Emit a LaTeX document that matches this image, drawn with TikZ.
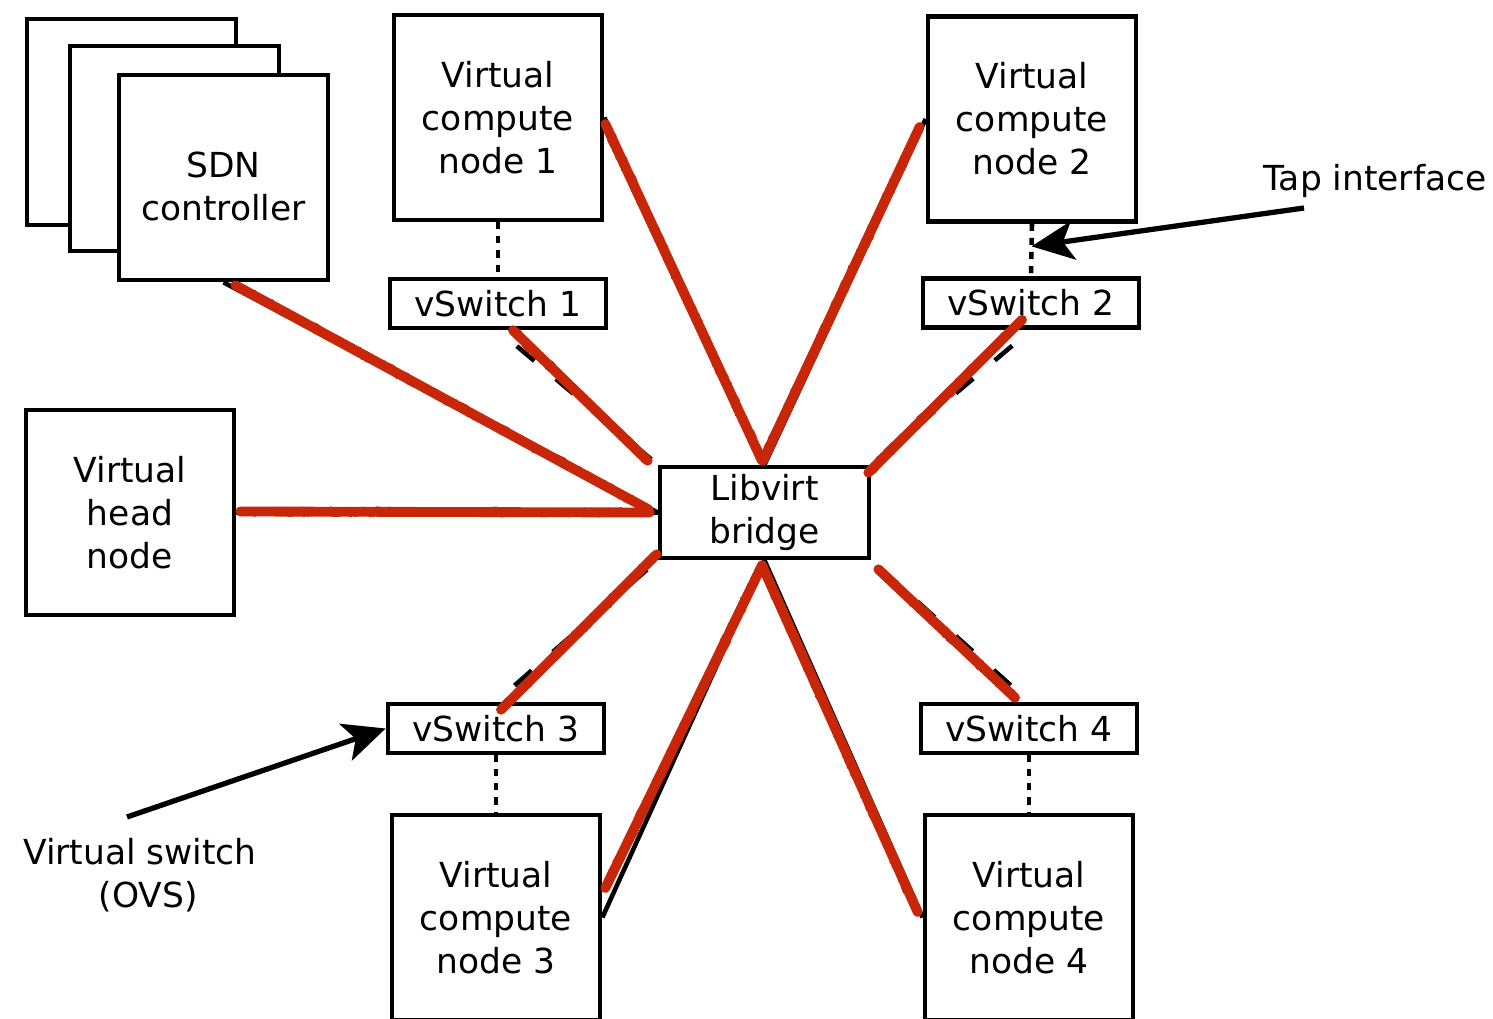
\documentclass[tikz,border=0pt]{standalone}
\usepackage{fontspec}
\setmainfont{DejaVu Sans}
\usetikzlibrary{arrows.meta,calc,decorations.pathmorphing}
\definecolor{scribble}{RGB}{200,38,8}
\begin{document}
\begin{tikzpicture}[x=0.01cm,y=-0.01cm,
  box/.style={draw, line width=1.3pt, fill=white, inner sep=0pt, align=center,
              font=\fontsize{9.8}{12.2}\selectfont},
  bigbox/.style={box, minimum width=2.08cm, minimum height=2.05cm},
  swbox/.style={box, minimum width=2.16cm, minimum height=0.49cm},
  brbox/.style={box, minimum width=2.09cm, minimum height=0.91cm},
  txt/.style={inner sep=0pt, align=center, font=\fontsize{9.8}{12.2}\selectfont},
  link/.style={line width=1.3pt},
  dashlink/.style={line width=1.3pt, dash pattern=on 6.5pt off 8pt, dash phase=7.5pt},
  taplink/.style={line width=1.3pt, dash pattern=on 2pt off 2pt},
  callout/.style={line width=1.5pt, -{Stealth[length=12pt,width=11pt,inset=3pt]}},
  scrib/.style={scribble, line width=2.8pt, line cap=round, line join=round,
    postaction={draw, scribble, line width=0.9pt, line join=round, decorate,
      decoration={random steps,segment length=1.2pt,amplitude=1.1pt}},
    postaction={draw, scribble, line width=0.8pt, line join=round, decorate,
      decoration={random steps,segment length=1.5pt,amplitude=1.2pt}},
    postaction={draw, scribble, line width=0.6pt, line join=round, decorate,
      decoration={random steps,segment length=1pt,amplitude=1.3pt}}}
]
\pgfmathsetseed{7}
\useasboundingbox (0,0) rectangle (1493,1019);
\clip (0,0) rectangle (1493,1019);

% SDN controller stack
\node[bigbox, minimum width=2.09cm, minimum height=2.06cm] (sdnA) at (131.5,122) {};
\node[bigbox, minimum width=2.09cm] (sdnB) at (174.5,148.5) {};
\node[bigbox, minimum width=2.09cm] (sdn) at (223.5,177.5) {};
\node[txt] (sdnlabel) at (223.5,186.6) {SDN\\controller};

% compute nodes
\node[bigbox] (vcn1) at (498,117.5) {Virtual\\compute\\node 1};
\node[bigbox] (vcn2) at (1032,119) {Virtual\\compute\\node 2};
\node[bigbox] (vcn3) at (496,917.5) {Virtual\\compute\\node 3};
\node[bigbox] (vcn4) at (1029,917.5) {Virtual\\compute\\node 4};
\node[bigbox] (head) at (130,512.5) {Virtual\\head\\node};

% switches and bridge
\node[swbox] (vs1) at (498,303.5) {vSwitch 1};
\node[swbox] (vs2) at (1031,303) {vSwitch 2};
\node[swbox] (vs3) at (496,728.5) {vSwitch 3};
\node[swbox] (vs4) at (1029,728.5) {vSwitch 4};
\node[brbox] (bridge) at (764.5,512.5) {Libvirt\\bridge};

% tap interfaces
\draw[taplink] (vcn1.south) -- (vs1.north);
\draw[taplink] (vcn2.south) -- (vs2.north);
\draw[taplink] (vs3.south) -- (vcn3.north);
\draw[taplink] (vs4.south) -- (vcn4.north);

% connectors
\draw[link] (sdn.south) -- (bridge.west);
\draw[link] (head.east) -- (bridge.west);
\draw[link] (vcn1.east) -- (bridge.north);
\draw[link] (vcn2.west) -- (bridge.north);
\draw[link] (vcn3.east) -- (bridge.south);
\draw[link] (vcn4.west) -- (bridge.south);
\draw[dashlink] (vs1.south) -- (bridge.north west);
\draw[dashlink] (vs2.south) -- (bridge.north east);
\draw[dashlink] (vs3.north) -- (bridge.south west);
\draw[dashlink] (vs4.north) -- (bridge.south east);

% red strike-throughs
\draw[scrib] ($(sdn.south)+(12,3)$) -- ($(bridge.west)+(-9,-3)$);
\draw[scrib] ($(head.east)+(4,-1)$) -- ($(bridge.west)+(-8,0)$);
\draw[scrib] ($(vs1.south)+(15,0)$) -- ($(bridge.north west)+(-10,-4)$);
\draw[scrib] ($(vcn1.east)+(1,6.5)$) -- ($(bridge.north)+(-2.5,-4)$);
\draw[scrib] ($(vcn2.west)+(-6,8)$) -- ($(bridge.north)+(-1.5,-4)$);
\draw[scrib] ($(vs2.south)+(-9,-10)$) -- ($(bridge.north east)+(-3,8)$);
\draw[scrib] ($(bridge.south west)+(-1,-6)$) -- ($(vs3.north)+(5,8)$);
\draw[scrib] ($(bridge.south east)+(7,9)$) -- ($(vs4.north)+(-14,-4)$);
\draw[scrib] ($(bridge.south)+(-2.5,5)$) -- ($(vcn3.east)+(3,-29.5)$);
\draw[scrib] ($(bridge.south)+(-2.5,5)$) -- ($(vcn4.west)+(-5,-5.5)$);

% annotations
\node[txt] (taplabel) at (1375,181) {Tap interface};
\coordinate (tapstart) at (1304,208);
\coordinate (tappoint) at ($(vcn2.south)!0.43!(vs2.north)$);
\draw[callout] (tapstart) -- (tappoint);

\node[txt] (ovslabel) at (140,875) {Virtual switch\\\hspace*{0.16cm}(OVS)};
\coordinate (ovsstart) at (127,817);
\draw[callout] (ovsstart) -- (vs3.west);
\end{tikzpicture}
\end{document}
